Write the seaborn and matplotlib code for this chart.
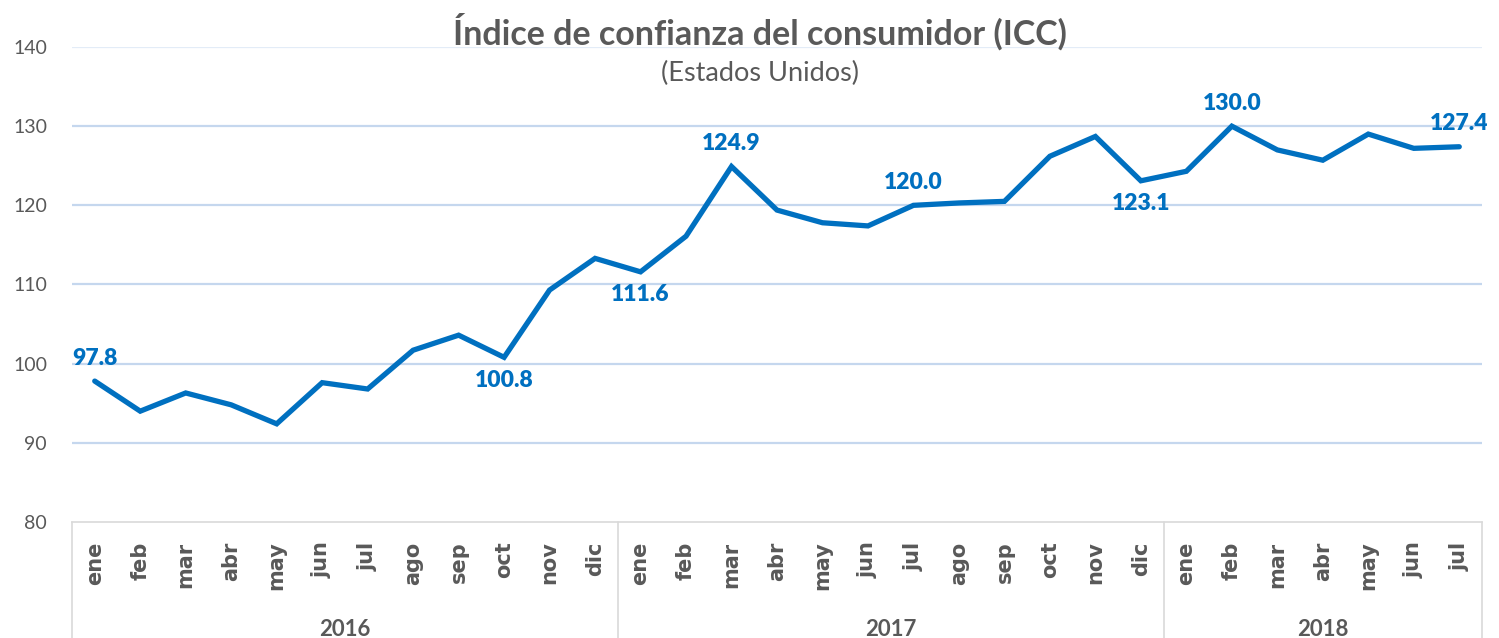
import matplotlib
matplotlib.use("Agg")
import matplotlib.pyplot as plt
import matplotlib.transforms as mtransforms
import seaborn as sns
import pandas as pd

years = ["2016", "2017", "2018"]
months_per_year = [12, 12, 7]
month_names = ["ene", "feb", "mar", "abr", "may", "jun", "jul", "ago", "sep", "oct", "nov", "dic"]

icc_2016 = [97.8, 94.0, 96.3, 94.8, 92.4, 97.6, 96.8, 101.7, 103.6, 100.8, 109.3, 113.3]
icc_2017 = [111.6, 116.1, 124.9, 119.4, 117.8, 117.4, 120.0, 120.3, 120.5, 126.2, 128.7, 123.1]
icc_2018 = [124.3, 130.0, 127.0, 125.7, 129.0, 127.2, 127.4]

# labelled points: (index, position)
label_points = {0: "above", 9: "below", 12: "below", 14: "above", 18: "above",
                23: "below", 25: "above", 30: "above"}

values = icc_2016 + icc_2017 + icc_2018
month_labels = []
for n in months_per_year:
    month_labels += month_names[:n]
df = pd.DataFrame({"idx": range(len(values)), "icc": values, "mes": month_labels})

sns.set_theme(style="white")
plt.rcParams["font.family"] = ["Lato", "DejaVu Sans"]

GREY = "#595959"
BLUE = "#0070C0"

fig = plt.figure(figsize=(14.99, 6.38), dpi=100)
ax = fig.add_axes([72 / 1499, 1 - 522 / 638, (1482 - 72) / 1499, (522 - 47) / 638])

sns.lineplot(data=df, x="idx", y="icc", ax=ax, color=BLUE, linewidth=3.8,
             solid_joinstyle="miter", solid_capstyle="round")

ax.set_xlim(-0.5, len(values) - 0.5)
ax.set_ylim(80, 140)
ax.set_yticks(range(80, 141, 10))
for y in range(90, 141, 10):
    ax.axhline(y, color="#C5D7EE" if y < 140 else "#E3ECF7", linewidth=1.6, zorder=0)

for s in ["top", "right", "left"]:
    ax.spines[s].set_visible(False)
ax.spines["bottom"].set_color("#D9D9D9")
ax.spines["bottom"].set_linewidth(1.2)

ax.set_xticks(df["idx"])
ax.set_xticklabels(df["mes"], rotation=90, fontsize=15, fontweight="bold",
                   color=GREY, family="DejaVu Sans")
ax.tick_params(axis="x", length=0, pad=14)
ax.tick_params(axis="y", length=0, pad=18, labelsize=14, labelcolor=GREY)
ax.set_xlabel("")
ax.set_ylabel("")

# year groups
trans = mtransforms.blended_transform_factory(ax.transData, ax.transAxes)
bounds = [-0.5]
for n in months_per_year:
    bounds.append(bounds[-1] + n)
for b in bounds:
    ax.plot([b, b], [0, -0.26], transform=trans, color="#D9D9D9", linewidth=1.2,
            clip_on=False)
for i, yr in enumerate(years):
    ax.text((bounds[i] + bounds[i + 1]) / 2, -0.227, yr, transform=trans,
            ha="center", va="center", fontsize=16, fontweight="bold", color=GREY)

# data labels
for i, pos in label_points.items():
    v = values[i]
    if pos == "above":
        ax.annotate(f"{v:.1f}", (i, v), xytext=(0, 9), textcoords="offset points",
                    ha="center", va="bottom", fontsize=16.5, fontweight="heavy", color=BLUE)
    else:
        ax.annotate(f"{v:.1f}", (i, v), xytext=(0, -9), textcoords="offset points",
                    ha="center", va="top", fontsize=16.5, fontweight="heavy", color=BLUE)

fig.text(0.507, 1 - 32 / 638, "Índice de confianza del consumidor (ICC)",
         ha="center", va="center", fontsize=24.5, fontweight="bold", color=GREY)
fig.text(0.507, 1 - 73 / 638, "(Estados Unidos)", ha="center", va="center",
         fontsize=19.5, color=GREY)

fig.savefig("out.png", dpi=100, facecolor="white")
